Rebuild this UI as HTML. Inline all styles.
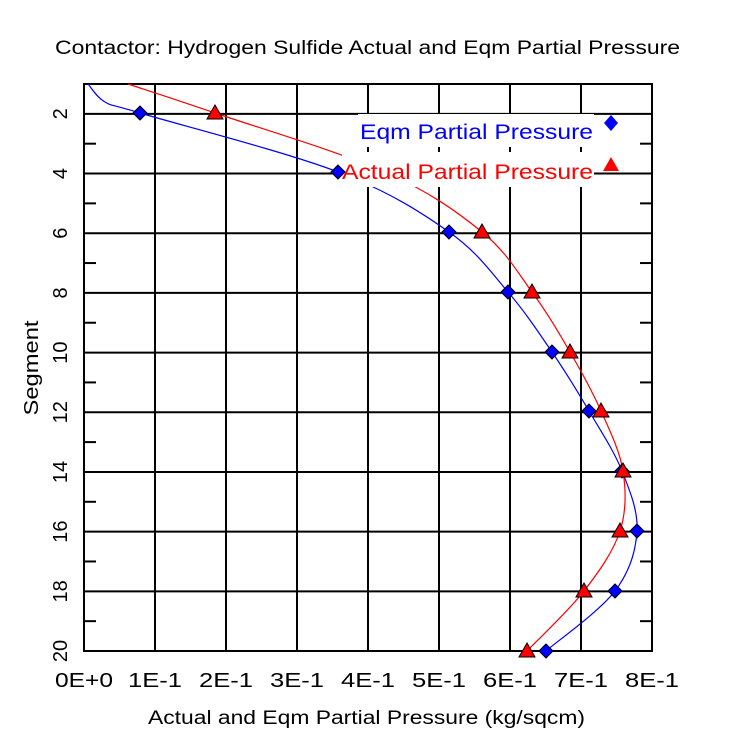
<!DOCTYPE html>
<html><head><meta charset="utf-8"><style>body{margin:0;background:#fff}svg{display:block}text{font-family:"Liberation Sans",sans-serif}</style></head>
<body>
<svg id="s" width="735" height="735" xmlns="http://www.w3.org/2000/svg">
<rect width="735" height="735" fill="#fff"/>
<text x="55" y="54" font-size="19" fill="#000" textLength="625" lengthAdjust="spacingAndGlyphs">Contactor: Hydrogen Sulfide Actual and Eqm Partial Pressure</text>
<g id="grid" stroke="#000" stroke-width="2" fill="none"></g>
<g id="curves" fill="none" stroke-width="1.2"></g>
<rect x="358" y="114" width="236" height="33" fill="#fff"/>
<rect x="342" y="152" width="252" height="35" fill="#fff"/>
<g id="marks"></g>
<text x="360" y="139" font-size="21" fill="#0000ff" textLength="233" lengthAdjust="spacingAndGlyphs">Eqm Partial Pressure</text>
<text x="342" y="179" font-size="21" fill="#ff0000" textLength="251" lengthAdjust="spacingAndGlyphs">Actual Partial Pressure</text>
<polygon points="611,115 618,123 611,131 604,123" fill="#0000ff"/>
<polygon points="611,157 619,171 603,171" fill="#ff0000"/>
<g id="labels" font-size="20" fill="#000"></g>
<text x="148" y="724" font-size="19" textLength="437" lengthAdjust="spacingAndGlyphs">Actual and Eqm Partial Pressure (kg/sqcm)</text>
<text transform="translate(38,368) rotate(-90)" font-size="20" text-anchor="middle" textLength="95" lengthAdjust="spacingAndGlyphs">Segment</text>
</svg>
<script>
const NS="http://www.w3.org/2000/svg";
function el(p,t,a,txt){const e=document.createElementNS(NS,t);for(const k in a)e.setAttribute(k,a[k]);if(txt!==undefined)e.textContent=txt;document.getElementById(p).appendChild(e);return e;}
const L=84,R=652,T=84,B=651;
const X=v=>L+v*(R-L)/8, Y=s=>T+(s-1)*(B-T)/19;
el("grid","rect",{x:L,y:T,width:R-L,height:B-T});
for(let i=1;i<8;i++)el("grid","line",{x1:X(i),y1:T,x2:X(i),y2:B});
for(let s=2;s<20;s+=2)el("grid","line",{x1:L,y1:Y(s),x2:R,y2:Y(s)});
for(let s=3;s<20;s+=2){el("grid","line",{x1:L,y1:Y(s),x2:L+12,y2:Y(s)});el("grid","line",{x1:R-12,y1:Y(s),x2:R,y2:Y(s)});}
for(let i=0;i<=8;i++)el("labels","text",{x:X(i),y:687,"text-anchor":"middle",textLength:i==0?58:54,lengthAdjust:"spacingAndGlyphs"},i==0?"0E+0":i+"E-1");
for(let s=2;s<=20;s+=2)el("labels","text",{transform:`translate(67,${Y(s)}) rotate(-90)`,"text-anchor":"middle"},String(s));
function cr(p){let d=`M${p[0][0]},${p[0][1]}`;for(let i=0;i<p.length-1;i++){const p0=p[i-1]||p[i],p1=p[i],p2=p[i+1],p3=p[i+2]||p2;d+=` C${p1[0]+(p2[0]-p0[0])/6},${p1[1]+(p2[1]-p0[1])/6} ${p2[0]-(p3[0]-p1[0])/6},${p2[1]-(p3[1]-p1[1])/6} ${p2[0]},${p2[1]}`;}return d;}
const blue=[[140,113],[338,172],[449,232],[508,292],[552,352],[589,411],[622,471],[637,531],[615,591],[546,651]];
const red=[[215,113],[385,172],[482,232],[532,292],[570,352],[601,411],[623,471],[620,531],[584,591],[527,651]];
el("curves","path",{d:cr([[88,84],[105,102],...blue]),stroke:"#0000ff"});
el("curves","path",{d:cr([[128,84],...red]),stroke:"#ff0000"});
blue.forEach(([x,y])=>el("marks","polygon",{points:`${x},${y-7} ${x+7},${y} ${x},${y+7} ${x-7},${y}`,fill:"#0000ff",stroke:"#000","stroke-width":1}));
red.forEach(([x,y],i)=>{if(i==1)return;el("marks","polygon",{points:`${x},${y-8} ${x+8},${y+6} ${x-8},${y+6}`,fill:"#ff0000",stroke:"#000","stroke-width":1});});
</script>
</body></html>
